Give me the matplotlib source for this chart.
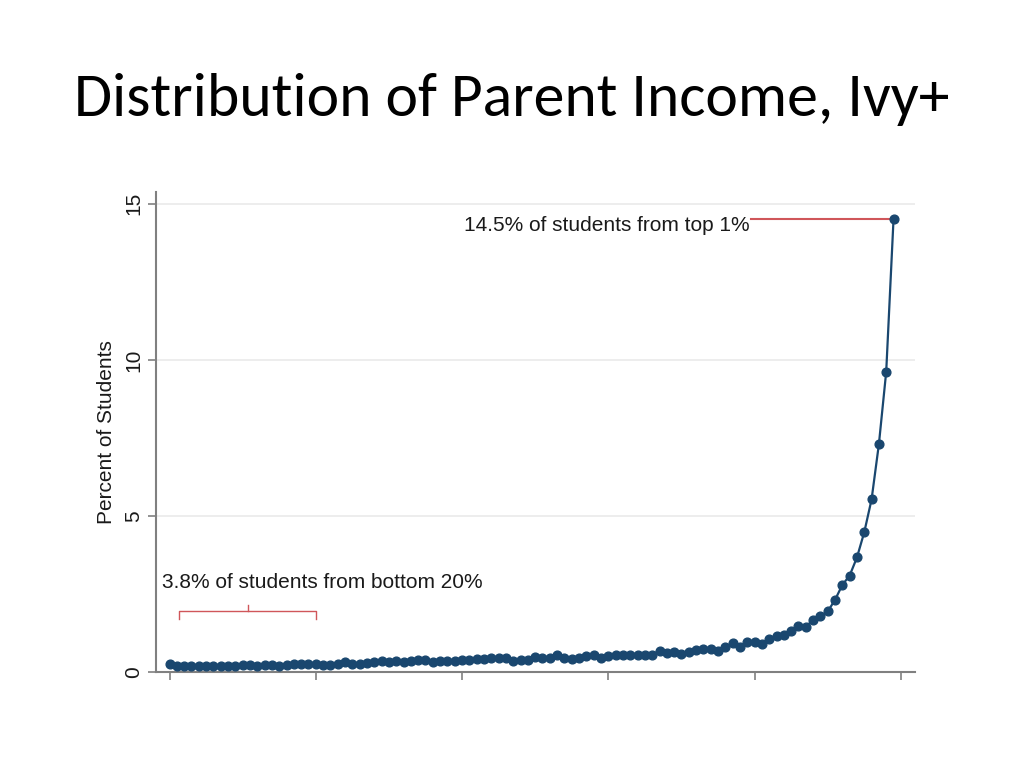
import matplotlib
matplotlib.use("Agg")
import matplotlib.pyplot as plt

# parent income percentile (0-99) and share of Ivy+ students in each
percentiles = list(range(100))
pct_students = [
    0.27, 0.18, 0.19, 0.19, 0.19, 0.19, 0.19, 0.19, 0.19, 0.18,
    0.21, 0.23, 0.20, 0.23, 0.21, 0.20, 0.23, 0.25, 0.25, 0.27,
    0.27, 0.24, 0.24, 0.27, 0.32, 0.27, 0.26, 0.30, 0.32, 0.36,
    0.31, 0.34, 0.31, 0.34, 0.38, 0.38, 0.33, 0.34, 0.35, 0.35,
    0.38, 0.38, 0.41, 0.43, 0.45, 0.45, 0.44, 0.36, 0.38, 0.40,
    0.48, 0.45, 0.45, 0.56, 0.46, 0.42, 0.45, 0.50, 0.55, 0.46,
    0.52, 0.55, 0.55, 0.54, 0.56, 0.56, 0.56, 0.68, 0.60, 0.65,
    0.57, 0.64, 0.71, 0.75, 0.74, 0.66, 0.81, 0.92, 0.80, 0.96,
    0.96, 0.89, 1.07, 1.14, 1.18, 1.30, 1.46, 1.44, 1.68, 1.79,
    1.94, 2.31, 2.79, 3.09, 3.67, 4.48, 5.53, 7.30, 9.62, 14.5,
]
y_ticks = [0, 5, 10, 15]
x_ticks = [0, 20, 40, 60, 80, 100]

navy = "#1a476f"
red = "#d0565a"
gray = "#808080"
txt = "#1a1a1a"

fig = plt.figure(figsize=(10.24, 7.68), dpi=100)
fig.text(0.5, 0.87, "Distribution of Parent Income, Ivy+", ha="center", va="center",
         fontsize=44.5, family=["Carlito", "Lato", "DejaVu Sans"])

ax = fig.add_axes([0.152, 0.125, 0.742, 0.625])
ax.set_xlim(-1.9, 102)
ax.set_ylim(0, 15.38)

ax.plot(percentiles, pct_students, color=navy, linewidth=1.6, marker="o",
        markersize=6.3, zorder=3)

# grid + axes styling
for yt in y_ticks[1:]:
    ax.axhline(yt, color="#eaeaea", linewidth=1.2, zorder=0)
ax.set_yticks(y_ticks)
ax.set_yticklabels([str(t) for t in y_ticks], rotation=90, va="center",
                   fontsize=15, family="Liberation Sans", color=txt)
ax.set_xticks(x_ticks)
ax.set_xticklabels([])
ax.tick_params(axis="both", color=gray, length=6, width=1.2)
ax.tick_params(axis="y", pad=3)
ax.set_ylabel("Percent of Students", fontsize=15, family="Liberation Sans",
              labelpad=6, color=txt)
for side in ["top", "right"]:
    ax.spines[side].set_visible(False)
for side in ["left", "bottom"]:
    ax.spines[side].set_color(gray)
    ax.spines[side].set_linewidth(1.5)

# top 1% annotation
ax.plot([79.5, 98.4], [14.52, 14.52], color=red, linewidth=1.5, zorder=2)
ax.text(79.3, 14.32, "14.5% of students from top 1%", ha="right", va="center",
        fontsize=15, family="Liberation Sans", color=txt)

# bottom 20% bracket
ax.plot([1.3, 1.3, 20, 20], [1.69, 1.94, 1.94, 1.69], color=red, linewidth=1)
ax.plot([10.7, 10.7], [1.94, 2.14], color=red, linewidth=1)
ax.text(-1.0, 2.87, "3.8% of students from bottom 20%", ha="left", va="center",
        fontsize=15, family="Liberation Sans", color=txt)

fig.savefig("out.png", dpi=100)
